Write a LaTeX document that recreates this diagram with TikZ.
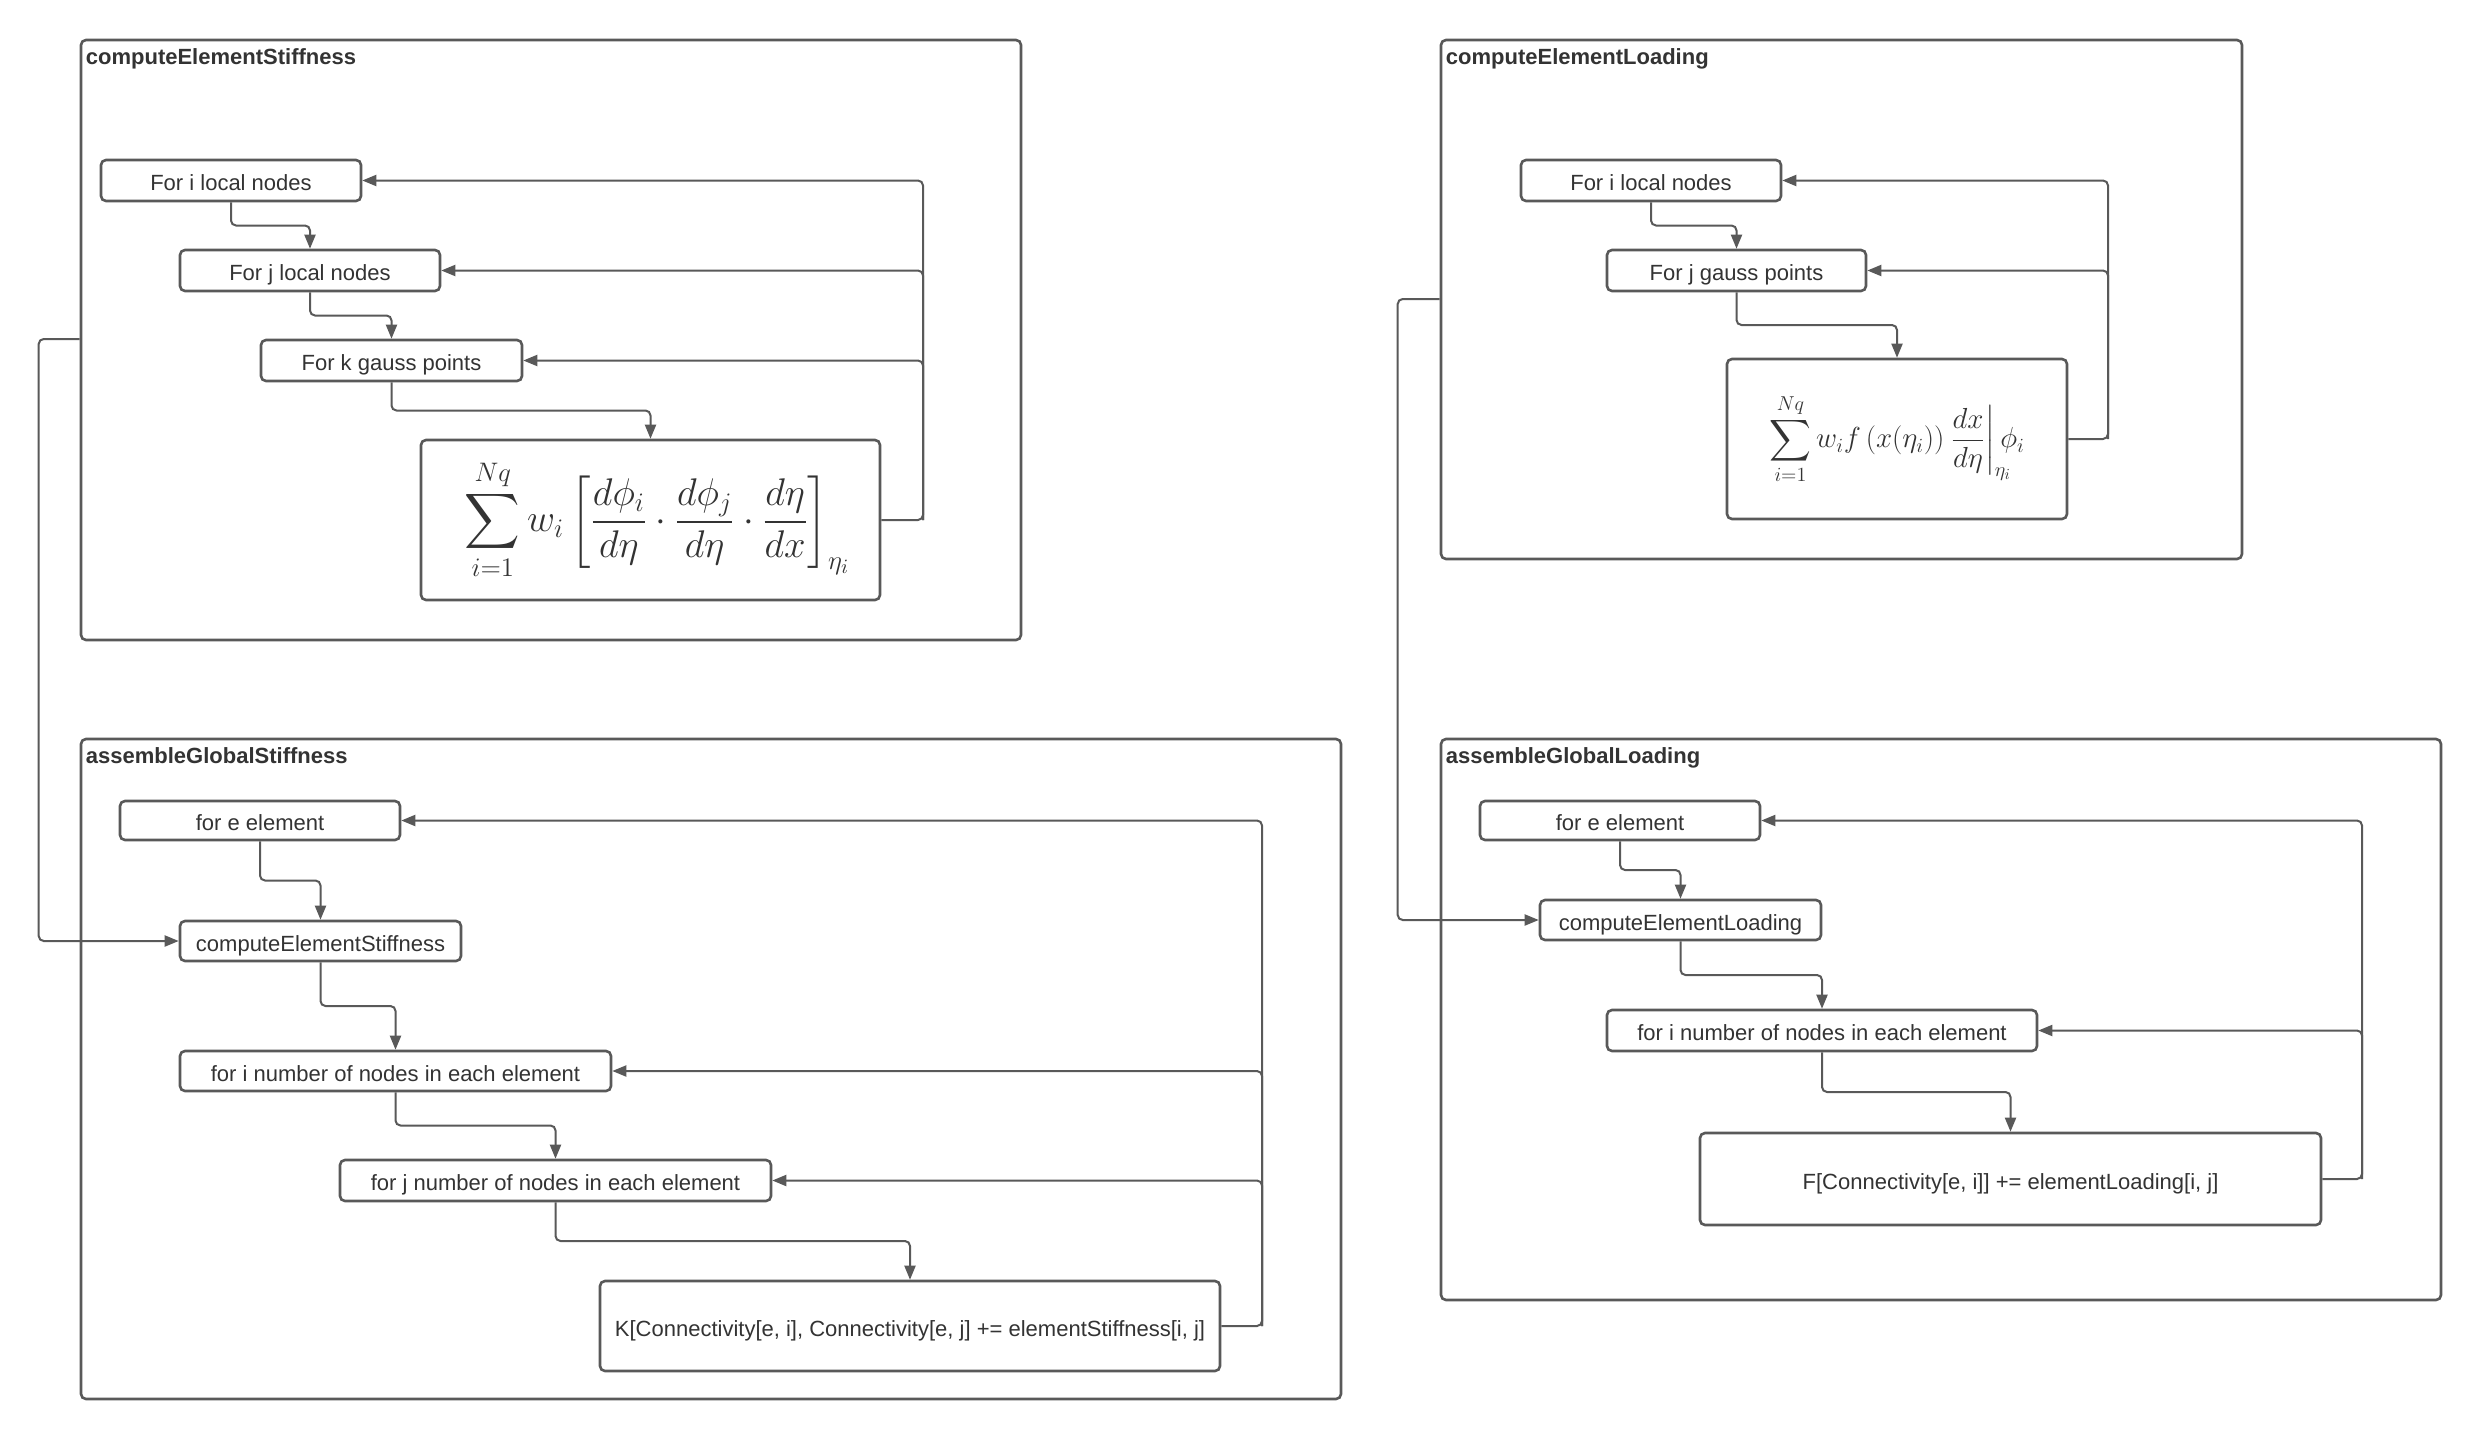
\documentclass[tikz,border=0pt]{standalone}
\usepackage{amsmath}
\usepackage{mathtools}
\usepackage{graphicx}
\usepackage{fontspec}
\setmainfont{Liberation Sans}
\usetikzlibrary{arrows.meta,calc}

\definecolor{edge}{HTML}{595959}
\definecolor{ink}{HTML}{333333}

\begin{document}
\begin{tikzpicture}[x=1pt,y=-1pt,
  font=\fontsize{22}{26}\selectfont, text=ink,
  frame/.style={draw=edge, line width=2.6pt, rounded corners=5pt, inner sep=0pt},
  mathbox/.style={draw=edge, line width=2.6pt, rounded corners=5pt, inner sep=0pt, align=center},
  stepbox/.style={mathbox, text height=20pt, text depth=0pt},
  caption/.style={font=\bfseries\fontsize{22}{26}\selectfont, anchor=north west, inner sep=0pt},
  conn/.style={draw=edge, line width=2pt, rounded corners=5pt, -{Triangle[length=14pt,width=11pt]}}]

% page
\fill[white] (0,0) rectangle (2482,1440);
\useasboundingbox (0,0) rectangle (2482,1440);

% ---------- containers ----------
\node[frame, minimum width=940, minimum height=600] (c1) at (551,340) {};
\node[caption] (t1) at ($(c1.north west)+(6,10)$) {computeElementStiffness};
\node[frame, minimum width=801, minimum height=519] (c2) at (1841.5,299.5) {};
\node[caption] (t2) at ($(c2.north west)+(6,10)$) {computeElementLoading};
\node[frame, minimum width=1260, minimum height=660] (c3) at (711,1069) {};
\node[caption] (t3) at ($(c3.north west)+(6,10)$) {assembleGlobalStiffness};
\node[frame, minimum width=1000, minimum height=561] (c4) at (1941,1019.5) {};
\node[caption] (t4) at ($(c4.north west)+(6,10)$) {assembleGlobalLoading};

% ---------- computeElementStiffness ----------
\node[stepbox, minimum width=260, minimum height=41] (si) at (231,180.5) {For i local nodes};
\node[stepbox, minimum width=260, minimum height=41] (sj) at (310,270.5) {For j local nodes};
\node[stepbox, minimum width=261, minimum height=41] (sk) at (391.5,360.5) {For k gauss points};
\node[mathbox, minimum width=459, minimum height=160] (sf) at (650.5,520)
  {\hspace*{14pt}\raisebox{-6pt}{\resizebox{385pt}{!}{$\displaystyle\sum_{i=1}^{Nq} w_i\left[\frac{d\phi_i}{d\eta}\cdot\frac{d\phi_j}{d\eta}\cdot\frac{d\eta}{dx}\right]_{\eta_i}$}}};
\coordinate (sfb) at (923,0);

\draw[conn] (si.south) |- ($(si.south)!.5!(sj.north)$) -| (sj.north);
\draw[conn] (sj.south) |- ($(sj.south)!.5!(sk.north)$) -| (sk.north);
\draw[conn] (sk.south) |- ($(sk.south)!.5!(sf.north)$) -| (sf.north);
\draw[conn] (sf.east) -| (sfb |- si.east) -- (si.east);
\draw[conn] (sfb |- sf.east) |- (sj.east);
\draw[conn] (sfb |- sf.east) |- (sk.east);

% ---------- computeElementLoading ----------
\node[stepbox, minimum width=260, minimum height=41] (li) at (1651,180.5) {For i local nodes};
\node[stepbox, minimum width=259, minimum height=41] (lj) at (1736.5,270.5) {For j gauss points};
\node[mathbox, minimum width=340, minimum height=160] (lf) at (1897,439)
  {\raisebox{4pt}{\resizebox{255pt}{!}{$\displaystyle\sum_{i=1}^{Nq} w_i f\left(x(\eta_i)\right)\left.\frac{dx}{d\eta}\right|_{\mathrlap{\eta_i}}\phi_i$}}};
\coordinate (lfb) at (2108,0);

\draw[conn] (li.south) |- ($(li.south)!.5!(lj.north)$) -| (lj.north);
\draw[conn] (lj.south) |- ($(lj.south)!.5!(lf.north)$) -| (lf.north);
\draw[conn] (lf.east) -| (lfb |- li.east) -- (li.east);
\draw[conn] (lfb |- lf.east) |- (lj.east);

% ---------- assembleGlobalStiffness ----------
\node[stepbox, minimum width=280, minimum height=39] (ae) at (260,820.5) {for e element};
\node[stepbox, minimum width=281, minimum height=40] (ac) at (320.5,941) {computeElementStiffness};
\node[stepbox, minimum width=431, minimum height=40] (ai) at (395.5,1071) {for i number of nodes in each element};
\node[stepbox, minimum width=431, minimum height=41] (aj) at (555.5,1180.5) {for j number of nodes in each element};
\node[stepbox, minimum width=620, minimum height=90] (ak) at (910,1326)
  {K[Connectivity[e, i], Connectivity[e, j] += elementStiffness[i, j]};
\coordinate (afb) at (1262,0);

\draw[conn] (ae.south) |- ($(ae.south)!.5!(ac.north)$) -| (ac.north);
\draw[conn] (ac.south) |- ($(ac.south)!.5!(ai.north)$) -| (ai.north);
\draw[conn] (ai.south) |- ($(ai.south)!.5!(aj.north)$) -| (aj.north);
\draw[conn] (aj.south) |- ($(aj.south)!.5!(ak.north)$) -| (ak.north);
\draw[conn] (ak.east) -| (afb |- ae.east) -- (ae.east);
\draw[conn] (afb |- ak.east) |- (ai.east);
\draw[conn] (afb |- ak.east) |- (aj.east);

% ---------- assembleGlobalLoading ----------
\node[stepbox, minimum width=280, minimum height=39] (be) at (1620,820.5) {for e element};
\node[stepbox, minimum width=281, minimum height=40] (bc) at (1680.5,920) {computeElementLoading};
\node[stepbox, minimum width=430, minimum height=41] (bi) at (1822,1030.5) {for i number of nodes in each element};
\node[stepbox, minimum width=621, minimum height=92] (bf) at (2010.5,1179)
  {F[Connectivity[e, i]] += elementLoading[i, j]};
\coordinate (bfb) at (2362,0);

\draw[conn] (be.south) |- ($(be.south)!.5!(bc.north)$) -| (bc.north);
\draw[conn] (bc.south) |- ($(bc.south)!.5!(bi.north)$) -| (bi.north);
\draw[conn] (bi.south) |- ($(bi.south)!.5!(bf.north)$) -| (bf.north);
\draw[conn] (bf.east) -| (bfb |- be.east) -- (be.east);
\draw[conn] (bfb |- bf.east) |- (bi.east);

% ---------- calls between containers ----------
\coordinate (c1out) at (c1.north west |- 0,339);
\coordinate (c2out) at (c2.north west |- 0,299);
\draw[conn] (c1out) -| ([xshift=-140pt]ac.west) -- (ac.west);
\draw[conn] (c2out) -| ([xshift=-141pt]bc.west) -- (bc.west);
\end{tikzpicture}
\end{document}
